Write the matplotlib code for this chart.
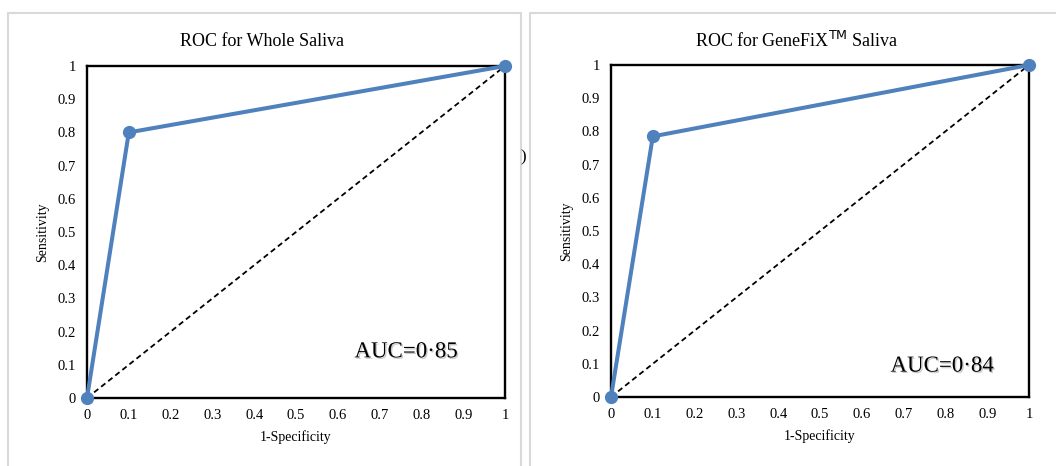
import matplotlib
matplotlib.use('Agg')
import matplotlib.pyplot as plt
from matplotlib.patches import Rectangle
import matplotlib.patheffects as pe

plt.rcParams['font.family'] = ['Liberation Serif', 'DejaVu Serif']

# data
fpr_whole = [0, 0.1, 1]
tpr_whole = [0, 0.8, 1]
fpr_genefix = [0, 0.1, 1]
tpr_genefix = [0, 0.785, 1]
titles = ['ROC for Whole Saliva', 'ROC for GeneFiX$^{\\mathrm{TM}}$ Saliva']
auc_labels = ['AUC=0\u00b785', 'AUC=0\u00b784']
ticks = [0, 0.1, 0.2, 0.3, 0.4, 0.5, 0.6, 0.7, 0.8, 0.9, 1]
tick_labels = ['0', '0.1', '0.2', '0.3', '0.4', '0.5', '0.6', '0.7', '0.8', '0.9', '1']

W, H = 1056, 466
fig = plt.figure(figsize=(W / 100, H / 100), dpi=100)

# panel frames (in pixels)
for x0, x1 in [(8, 521), (530, 1060)]:
    fig.patches.append(Rectangle((x0 / W, -0.1), (x1 - x0) / W, 1.1 - 13 / H,
                                 transform=fig.transFigure, fill=False,
                                 edgecolor='#d9d9d9', linewidth=1.5))
fig.text(523 / W, 1 - 157 / H, ')', fontsize=12, ha='center', va='center')

panels = [
    (87, 398, fpr_whole, tpr_whole, (0.763, 0.139), 262),
    (611, 397, fpr_genefix, tpr_genefix, (0.792, 0.093), 797),
]
for k, (px, py, xs, ys, auc_pos, tx) in enumerate(panels):
    ax = fig.add_axes([px / W, (H - py) / H, 418 / W, 332 / H])
    ax.plot([0, 1], [0, 1], color='black', linestyle=(0, (3, 2)), linewidth=1.3)
    ax.plot(xs, ys, color='#4f81bd', linewidth=2.9, marker='o', markersize=8.5,
            clip_on=False, zorder=5)
    ax.set_xlim(0, 1)
    ax.set_ylim(0, 1)
    ax.set_xticks(ticks)
    ax.set_xticklabels(tick_labels)
    ax.set_yticks(ticks)
    ax.set_yticklabels(tick_labels)
    ax.tick_params(length=0, labelsize=10.5, pad=8)
    for s in ax.spines.values():
        s.set_linewidth(1.7)
    # chart title is centred on the whole panel, not on the plot area
    fig.text(tx / W, 1 - 41 / H, titles[k], fontsize=13, ha='center', va='center')
    ax.set_xlabel('1-Specificity', fontsize=10, labelpad=6)
    ax.set_ylabel('Sensitivity', fontsize=10, labelpad=6)
    ax.text(auc_pos[0], auc_pos[1], auc_labels[k], fontsize=16.5,
            ha='center', va='center', transform=ax.transAxes,
            path_effects=[pe.withSimplePatchShadow(offset=(1, -1), shadow_rgbFace='#bbbbbb', alpha=0.8)])

fig.savefig('out.png', dpi=100)
